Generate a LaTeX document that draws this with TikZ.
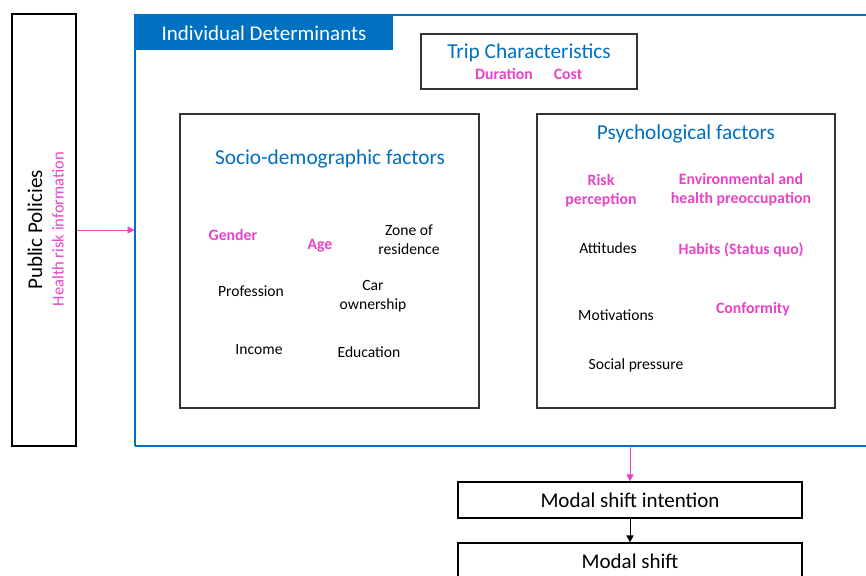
\documentclass[tikz,border=0pt]{standalone}
\usepackage{fontspec}
\setmainfont{Carlito}
\usetikzlibrary{arrows.meta}
\definecolor{blu}{RGB}{0,112,192}
\definecolor{pnk}{RGB}{232,68,200}
\tikzset{
  box/.style={draw=black!80,line width=1.2pt},
  lbl/.style={inner sep=0pt,font=\fontsize{15.6}{19}\selectfont,align=center,text=black},
  plbl/.style={lbl,text=pnk,font=\fontsize{15.8}{19}\selectfont\bfseries},
  ttl/.style={inner sep=0pt,font=\fontsize{21.3}{24}\selectfont,text=blu},
  big/.style={inner sep=0pt,font=\fontsize{21}{24}\selectfont},
  arr/.style={-{Triangle[length=7pt,width=7pt]},line width=0.9pt}
}
\begin{document}
\begin{tikzpicture}[x=1pt,y=-1pt]
\useasboundingbox (0,0) rectangle (866,575);
\clip (0,0) rectangle (866,575);
\fill[white] (0,0) rectangle (866,575);
% public policies
\node[box,draw=black,minimum width=64pt,minimum height=432pt,inner sep=0pt] (pp) at (44,230) {};
\node[big,rotate=90] (ppt) at (35,230) {Public Policies};
\node[lbl,rotate=90,text=pnk,font=\fontsize{16.5}{19}\selectfont] (hri) at (58,229) {Health risk information};
% individual determinants
\draw[blu,line width=2pt] (134.5,446) -- (134.5,15) -- (880,15);
\draw[blu,line width=2pt] (134.5,446) -- (880,446);
\coordinate (idl) at (134.5,230);
\coordinate (idb) at (630,446);
\fill[blu] (134.5,15) rectangle (393,50);
\node[big,text=white] (idt) at (264,33) {Individual Determinants};
% trip characteristics
\draw[box] (421,34) rectangle (637,89);
\node[ttl] (trip) at (529,52.5) {Trip Characteristics};
\node[plbl] (dur) at (504,74) {Duration};
\node[plbl] (cost) at (568,74) {Cost};
% socio
\draw[box] (180,114) rectangle (479,408);
\node[ttl] (soc) at (330,158.5) {Socio-demographic factors};
\node[plbl] (gen) at (233,235) {Gender};
\node[plbl] (age) at (320,246) {Age};
\node[lbl] (zone) at (409,240) {Zone of\\residence};
\node[lbl] (prof) at (251,291) {Profession};
\node[lbl] (car) at (373,296) {Car\\ownership};
\node[lbl] (inc) at (259,349.5) {Income};
\node[lbl] (edu) at (369,352.5) {Education};
% psych
\draw[box] (537,114) rectangle (835,408);
\node[ttl] (psy) at (686,133.5) {Psychological factors};
\node[plbl] (risk) at (601,191) {Risk\\perception};
\node[plbl] (env) at (741,190) {Environmental and\\health preoccupation};
\node[lbl] (att) at (608,248) {Attitudes};
\node[plbl] (hab) at (741,250) {Habits (Status quo)};
\node[lbl] (mot) at (616,315) {Motivations};
\node[plbl] (conf) at (753,309) {Conformity};
\node[lbl] (soc2) at (636,365) {Social pressure};
% modal shift
\node[box,draw=black,minimum width=344pt,minimum height=36pt,inner sep=0pt,big] (msi) at (630,500) {Modal shift intention};
\node[box,draw=black,minimum width=344pt,minimum height=40pt,inner sep=0pt] (ms) at (630,563) {};
\node[big] (mst) at (630,561) {Modal shift};
% arrows
\draw[arr,pnk] (pp.east |- idl) -- (idl);
\draw[arr,pnk] (idb) -- (msi.north);
\draw[arr,black] (msi.south) -- (ms.north);
\end{tikzpicture}
\end{document}
